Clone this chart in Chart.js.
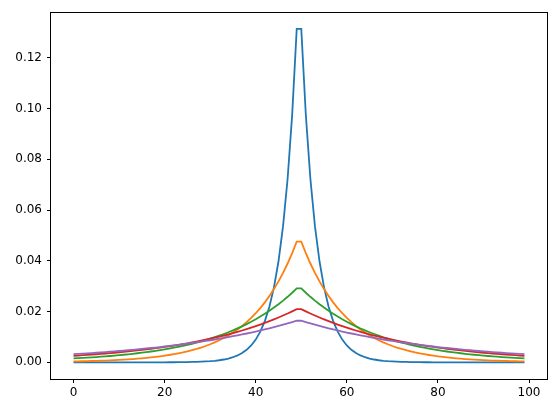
<!DOCTYPE html>
<html>
<head>
<meta charset="utf-8">
<script src="https://cdn.jsdelivr.net/npm/chart.js@4/dist/chart.umd.min.js"></script>
<style>
  body { margin: 0; background: #fff; }
  canvas { display: block; }
</style>
</head>
<body>
<canvas id="peakChart" width="556" height="413"></canvas>
<script>
// x positions, one per sample
const xs = [
  0,1,2,3,4,5,6,7,8,9,10,11,12,13,14,15,16,17,18,19,
  20,21,22,23,24,25,26,27,28,29,30,31,32,33,34,35,36,37,38,39,
  40,41,42,43,44,45,46,47,48,49,50,51,52,53,54,55,56,57,58,59,
  60,61,62,63,64,65,66,67,68,69,70,71,72,73,74,75,76,77,78,79,
  80,81,82,83,84,85,86,87,88,89,90,91,92,93,94,95,96,97,98,99
];

// values, narrowest peak first
const blue = [
  0,0,0,0,0,0,0,0,0,0,
  0,0,0,0,0,0,0,0.00001,0.00001,0.00002,
  0.00002,0.00003,0.00004,0.00006,0.00008,0.00010,0.00014,0.00019,0.00025,0.00034,
  0.00045,0.00061,0.00082,0.00111,0.00149,0.00201,0.00271,0.00366,0.00493,0.00664,
  0.00895,0.01207,0.01626,0.02192,0.02954,0.03982,0.05367,0.07233,0.09749,0.13140,
  0.13140,0.09749,0.07233,0.05367,0.03982,0.02954,0.02192,0.01626,0.01207,0.00895,
  0.00664,0.00493,0.00366,0.00271,0.00201,0.00149,0.00111,0.00082,0.00061,0.00045,
  0.00034,0.00025,0.00019,0.00014,0.00010,0.00008,0.00006,0.00004,0.00003,0.00002,
  0.00002,0.00001,0.00001,0,0,0,0,0,0,0,
  0,0,0,0,0,0,0,0,0,0
];
const orange = [
  0.00035,0.00039,0.00043,0.00048,0.00053,0.00058,0.00065,0.00071,0.00079,0.00087,
  0.00096,0.00106,0.00118,0.00130,0.00144,0.00159,0.00175,0.00194,0.00214,0.00237,
  0.00262,0.00289,0.00320,0.00353,0.00390,0.00432,0.00477,0.00527,0.00582,0.00644,
  0.00711,0.00786,0.00869,0.00960,0.01061,0.01173,0.01296,0.01433,0.01583,0.01750,
  0.01934,0.02137,0.02362,0.02610,0.02885,0.03188,0.03524,0.03894,0.04304,0.04756,
  0.04756,0.04304,0.03894,0.03524,0.03188,0.02885,0.02610,0.02362,0.02137,0.01934,
  0.01750,0.01583,0.01433,0.01296,0.01173,0.01061,0.00960,0.00869,0.00786,0.00711,
  0.00644,0.00582,0.00527,0.00477,0.00432,0.00390,0.00353,0.00320,0.00289,0.00262,
  0.00237,0.00214,0.00194,0.00175,0.00159,0.00144,0.00130,0.00118,0.00106,0.00096,
  0.00087,0.00079,0.00071,0.00065,0.00058,0.00053,0.00048,0.00043,0.00039,0.00035
];
const green = [
  0.00154,0.00163,0.00174,0.00184,0.00196,0.00208,0.00221,0.00234,0.00249,0.00264,
  0.00280,0.00298,0.00316,0.00336,0.00357,0.00379,0.00402,0.00427,0.00453,0.00481,
  0.00511,0.00543,0.00576,0.00612,0.00650,0.00690,0.00732,0.00778,0.00826,0.00877,
  0.00931,0.00989,0.01050,0.01115,0.01184,0.01257,0.01335,0.01417,0.01505,0.01598,
  0.01697,0.01802,0.01913,0.02031,0.02157,0.02290,0.02432,0.02582,0.02742,0.02911,
  0.02911,0.02742,0.02582,0.02432,0.02290,0.02157,0.02031,0.01913,0.01802,0.01697,
  0.01598,0.01505,0.01417,0.01335,0.01257,0.01184,0.01115,0.01050,0.00989,0.00931,
  0.00877,0.00826,0.00778,0.00732,0.00690,0.00650,0.00612,0.00576,0.00543,0.00511,
  0.00481,0.00453,0.00427,0.00402,0.00379,0.00357,0.00336,0.00316,0.00298,0.00280,
  0.00264,0.00249,0.00234,0.00221,0.00208,0.00196,0.00184,0.00174,0.00163,0.00154
];
const red = [
  0.00257,0.00268,0.00280,0.00292,0.00305,0.00318,0.00332,0.00347,0.00362,0.00378,
  0.00394,0.00412,0.00430,0.00448,0.00468,0.00489,0.00510,0.00532,0.00556,0.00580,
  0.00605,0.00632,0.00660,0.00688,0.00719,0.00750,0.00783,0.00817,0.00853,0.00890,
  0.00929,0.00970,0.01012,0.01057,0.01103,0.01151,0.01202,0.01254,0.01309,0.01367,
  0.01426,0.01489,0.01554,0.01622,0.01693,0.01767,0.01845,0.01925,0.02010,0.02098,
  0.02098,0.02010,0.01925,0.01845,0.01767,0.01693,0.01622,0.01554,0.01489,0.01426,
  0.01367,0.01309,0.01254,0.01202,0.01151,0.01103,0.01057,0.01012,0.00970,0.00929,
  0.00890,0.00853,0.00817,0.00783,0.00750,0.00719,0.00688,0.00660,0.00632,0.00605,
  0.00580,0.00556,0.00532,0.00510,0.00489,0.00468,0.00448,0.00430,0.00412,0.00394,
  0.00378,0.00362,0.00347,0.00332,0.00318,0.00305,0.00292,0.00280,0.00268,0.00257
];
const purple = [
  0.00320,0.00331,0.00342,0.00354,0.00366,0.00378,0.00391,0.00404,0.00418,0.00432,
  0.00447,0.00462,0.00478,0.00494,0.00510,0.00528,0.00546,0.00564,0.00583,0.00603,
  0.00623,0.00645,0.00666,0.00689,0.00712,0.00737,0.00762,0.00787,0.00814,0.00842,
  0.00870,0.00900,0.00930,0.00962,0.00994,0.01028,0.01063,0.01099,0.01136,0.01175,
  0.01214,0.01255,0.01298,0.01342,0.01388,0.01435,0.01483,0.01533,0.01585,0.01639,
  0.01639,0.01585,0.01533,0.01483,0.01435,0.01388,0.01342,0.01298,0.01255,0.01214,
  0.01175,0.01136,0.01099,0.01063,0.01028,0.00994,0.00962,0.00930,0.00900,0.00870,
  0.00842,0.00814,0.00787,0.00762,0.00737,0.00712,0.00689,0.00666,0.00645,0.00623,
  0.00603,0.00583,0.00564,0.00546,0.00528,0.00510,0.00494,0.00478,0.00462,0.00447,
  0.00432,0.00418,0.00404,0.00391,0.00378,0.00366,0.00354,0.00342,0.00331,0.00320
];

// tick labels
const xTicks = [0, 20, 40, 60, 80, 100];
const yTicks = [0, 0.02, 0.04, 0.06, 0.08, 0.10, 0.12];

const series = [blue, orange, green, red, purple];
const colors = ['#1f77b4', '#ff7f0e', '#2ca02c', '#d62728', '#9467bd'];

// matplotlib draws a box on all four sides, chart.js only does two
const frameBox = {
  id: 'frameBox',
  afterDraw(chart) {
    const a = chart.chartArea;
    const ctx = chart.ctx;
    ctx.save();
    ctx.strokeStyle = '#000';
    ctx.lineWidth = 1;
    ctx.strokeRect(Math.round(a.left) - 0.5, Math.round(a.top) + 0.5,
                   Math.round(a.right - a.left) + 1, Math.round(a.bottom - a.top));
    ctx.restore();
  }
};

const tickFont = { family: 'DejaVu Sans', size: 12 };

new Chart(document.getElementById('peakChart'), {
  type: 'line',
  data: {
    labels: xs,
    datasets: series.map((vals, i) => ({
      data: vals,
      borderColor: colors[i],
      borderWidth: 1.8,
      pointRadius: 0,
      tension: 0,
      fill: false,
      order: series.length - i  // later series on top, like matplotlib
    }))
  },
  options: {
    responsive: false,
    animation: false,
    devicePixelRatio: 1,
    layout: { padding: { top: 10, right: 9, left: 0, bottom: 0 } },
    plugins: { legend: { display: false }, tooltip: { enabled: false } },
    scales: {
      x: {
        type: 'linear',
        min: -4.95,
        max: 103.95,
        afterBuildTicks: s => { s.ticks = xTicks.map(v => ({ value: v })); },
        afterFit: s => { s.height = 34; },
        grid: { drawOnChartArea: false, drawTicks: true, tickLength: 4, color: '#000' },
        border: { display: false },
        ticks: { font: tickFont, color: '#000', padding: 3, maxRotation: 0 }
      },
      y: {
        min: -0.00657,
        max: 0.13797,
        afterBuildTicks: s => { s.ticks = yTicks.map(v => ({ value: v })); },
        afterFit: s => { s.width = 51; },
        grid: { drawOnChartArea: false, drawTicks: true, tickLength: 4, color: '#000' },
        border: { display: false },
        ticks: { font: tickFont, color: '#000', padding: 5, callback: v => v.toFixed(2) }
      }
    }
  },
  plugins: [frameBox]
});
</script>
</body>
</html>
